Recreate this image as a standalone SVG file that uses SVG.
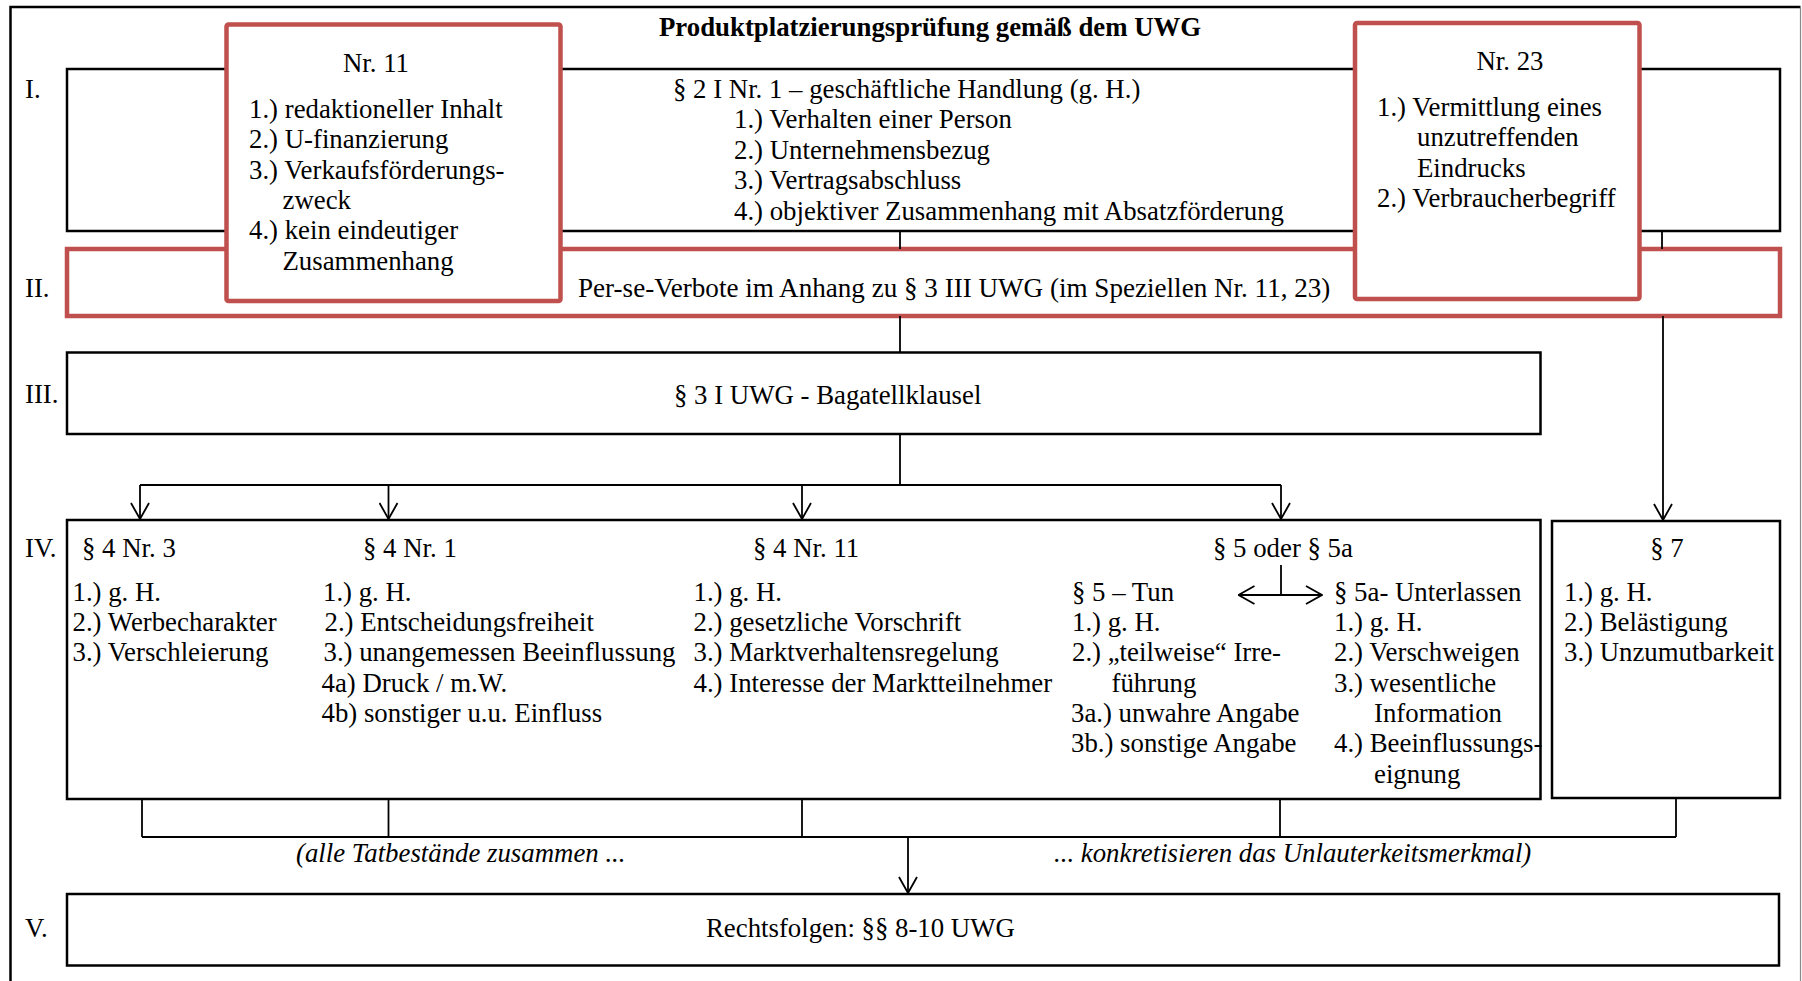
<svg xmlns="http://www.w3.org/2000/svg" width="1802" height="981" viewBox="0 0 1802 981">
<defs>
<style>
.t{font-family:"Liberation Serif","Times New Roman",serif;font-size:26.8px;fill:#000}
.b{font-weight:bold}
.i{font-style:italic}
.box{fill:#fff;stroke:#000;stroke-width:2.5}
.red{fill:#fff;stroke:#C0504D;stroke-width:4.5}
.c{fill:none;stroke:#000;stroke-width:1.8}
</style>
<marker id="ah" viewBox="0 0 18 20" markerWidth="18" markerHeight="20" refX="17" refY="10" orient="auto-start-reverse" markerUnits="userSpaceOnUse">
<path d="M1,1 L17,10 L1,19" fill="none" stroke="#000" stroke-width="1.8"/>
</marker>
</defs>
<rect width="1802" height="981" fill="#fff"/>
<g id="frame">
<path d="M10.5,990 L10.5,7 L1800.5,7" fill="none" stroke="#000" stroke-width="2.5"/>
<line x1="1800.5" y1="7" x2="1800.5" y2="981" stroke="#888" stroke-width="1.2"/>
<text class="t b" x="659" y="36">Produktplatzierungsprüfung gemäß dem UWG</text>
</g>
<g id="labels">
<text class="t" x="25" y="98">I.</text>
<text class="t" x="25" y="297">II.</text>
<text class="t" x="25" y="403">III.</text>
<text class="t" x="25" y="557">IV.</text>
<text class="t" x="25" y="937">V.</text>
</g>
<g id="box-I">
<rect class="box" x="67" y="69" width="1713" height="162"/>
<text class="t" x="673" y="97.5">§ 2 I Nr. 1 – geschäftliche Handlung (g. H.)</text>
<text class="t" x="734" y="128">1.) Verhalten einer Person</text>
<text class="t" x="734" y="158.5">2.) Unternehmensbezug</text>
<text class="t" x="734" y="189">3.) Vertragsabschluss</text>
<text class="t" x="734" y="219.5">4.) objektiver Zusammenhang mit Absatzförderung</text>
</g>
<g id="box-II">
<rect class="red" x="67" y="249" width="1713" height="67"/>
<text class="t" x="578" y="297" style="font-size:27.1px">Per-se-Verbote im Anhang zu § 3 III UWG (im Speziellen Nr. 11, 23)</text>
</g>
<g id="nr11">
<rect class="red" x="226.5" y="24.5" width="334" height="276.5" rx="2"/>
<text class="t" x="376" y="71.5" text-anchor="middle">Nr. 11</text>
<text class="t" x="249" y="117.5">1.) redaktioneller Inhalt</text>
<text class="t" x="249" y="148">2.) U-finanzierung</text>
<text class="t" x="249" y="178.5">3.) Verkaufsförderungs-</text>
<text class="t" x="282.5" y="209">zweck</text>
<text class="t" x="249" y="239">4.) kein eindeutiger</text>
<text class="t" x="282.5" y="269.5">Zusammenhang</text>
</g>
<g id="nr23">
<rect class="red" x="1355" y="23" width="284.5" height="276" rx="2"/>
<text class="t" x="1510" y="69.5" text-anchor="middle">Nr. 23</text>
<text class="t" x="1377" y="115.5">1.) Vermittlung eines</text>
<text class="t" x="1417" y="146">unzutreffenden</text>
<text class="t" x="1417" y="176.5">Eindrucks</text>
<text class="t" x="1377" y="207">2.) Verbraucherbegriff</text>
</g>
<g id="box-III">
<rect class="box" x="67" y="352.5" width="1473.5" height="81.5"/>
<text class="t" x="674" y="403.5">§ 3 I UWG - Bagatellklausel</text>
</g>
<g id="box-IV">
<rect class="box" x="67" y="520" width="1473.5" height="279"/>
<text class="t" x="82" y="557">§ 4 Nr. 3</text>
<text class="t" x="72.5" y="600.5">1.) g. H.</text>
<text class="t" x="72.5" y="631">2.) Werbecharakter</text>
<text class="t" x="72.5" y="661">3.) Verschleierung</text>
<text class="t" x="363" y="557">§ 4 Nr. 1</text>
<text class="t" x="323" y="600.5">1.) g. H.</text>
<text class="t" x="324.5" y="631">2.) Entscheidungsfreiheit</text>
<text class="t" x="323.5" y="661">3.) unangemessen Beeinflussung</text>
<text class="t" x="321.5" y="691.5">4a) Druck / m.W.</text>
<text class="t" x="321.5" y="722">4b) sonstiger u.u. Einfluss</text>
<text class="t" x="753" y="557">§ 4 Nr. 11</text>
<text class="t" x="693.5" y="600.5">1.) g. H.</text>
<text class="t" x="693.5" y="631">2.) gesetzliche Vorschrift</text>
<text class="t" x="693.5" y="661">3.) Marktverhaltensregelung</text>
<text class="t" x="693.5" y="691.5">4.) Interesse der Marktteilnehmer</text>
<text class="t" x="1213" y="557">§ 5 oder § 5a</text>
<text class="t" x="1072" y="600.5">§ 5 – Tun</text>
<text class="t" x="1072" y="631">1.) g. H.</text>
<text class="t" x="1072" y="661">2.) „teilweise“ Irre-</text>
<text class="t" x="1111.5" y="691.5">führung</text>
<text class="t" x="1071" y="722">3a.) unwahre Angabe</text>
<text class="t" x="1071" y="752">3b.) sonstige Angabe</text>
<text class="t" x="1334" y="600.5">§ 5a- Unterlassen</text>
<text class="t" x="1334" y="631">1.) g. H.</text>
<text class="t" x="1334" y="661">2.) Verschweigen</text>
<text class="t" x="1334" y="691.5">3.) wesentliche</text>
<text class="t" x="1374" y="722">Information</text>
<text class="t" x="1334" y="752">4.) Beeinflussungs-</text>
<text class="t" x="1374" y="782.5">eignung</text>
</g>
<g id="box-7">
<rect class="box" x="1552" y="521" width="228" height="277"/>
<text class="t" x="1667" y="557" text-anchor="middle">§ 7</text>
<text class="t" x="1564" y="600.5">1.) g. H.</text>
<text class="t" x="1564" y="631">2.) Belästigung</text>
<text class="t" x="1564" y="661">3.) Unzumutbarkeit</text>
</g>
<g id="box-V">
<rect class="box" x="67" y="894" width="1712" height="71.5"/>
<text class="t" x="706" y="937">Rechtsfolgen: §§ 8-10 UWG</text>
</g>
<g id="notes">
<text class="t i" x="296" y="862">(alle Tatbestände zusammen ...</text>
<text class="t i" x="1054" y="862">... konkretisieren das Unlauterkeitsmerkmal)</text>
</g>
<g id="connectors">
<line class="c" x1="900" y1="231" x2="900" y2="249"/>
<line class="c" x1="1662" y1="231" x2="1662" y2="249"/>
<line class="c" x1="900" y1="316" x2="900" y2="352"/>
<line class="c" x1="1663" y1="316" x2="1663" y2="520" marker-end="url(#ah)"/>
<line class="c" x1="900" y1="434" x2="900" y2="485"/>
<line class="c" x1="140" y1="485" x2="1281" y2="485"/>
<line class="c" x1="140" y1="485" x2="140" y2="519" marker-end="url(#ah)"/>
<line class="c" x1="388.5" y1="485" x2="388.5" y2="519" marker-end="url(#ah)"/>
<line class="c" x1="802" y1="485" x2="802" y2="519" marker-end="url(#ah)"/>
<line class="c" x1="1281" y1="485" x2="1281" y2="519" marker-end="url(#ah)"/>
<line class="c" x1="1281" y1="565" x2="1281" y2="595"/>
<line class="c" x1="1238.5" y1="595" x2="1322" y2="595" marker-start="url(#ah)" marker-end="url(#ah)"/>
<line class="c" x1="142" y1="799" x2="142" y2="837"/>
<line class="c" x1="388.5" y1="799" x2="388.5" y2="837"/>
<line class="c" x1="802" y1="799" x2="802" y2="837"/>
<line class="c" x1="1280" y1="799" x2="1280" y2="837"/>
<line class="c" x1="1676" y1="798" x2="1676" y2="837"/>
<line class="c" x1="142" y1="837" x2="1676" y2="837" stroke-width="2.5"/>
<line class="c" x1="908" y1="837" x2="908" y2="893" marker-end="url(#ah)"/>
</g>
</svg>
